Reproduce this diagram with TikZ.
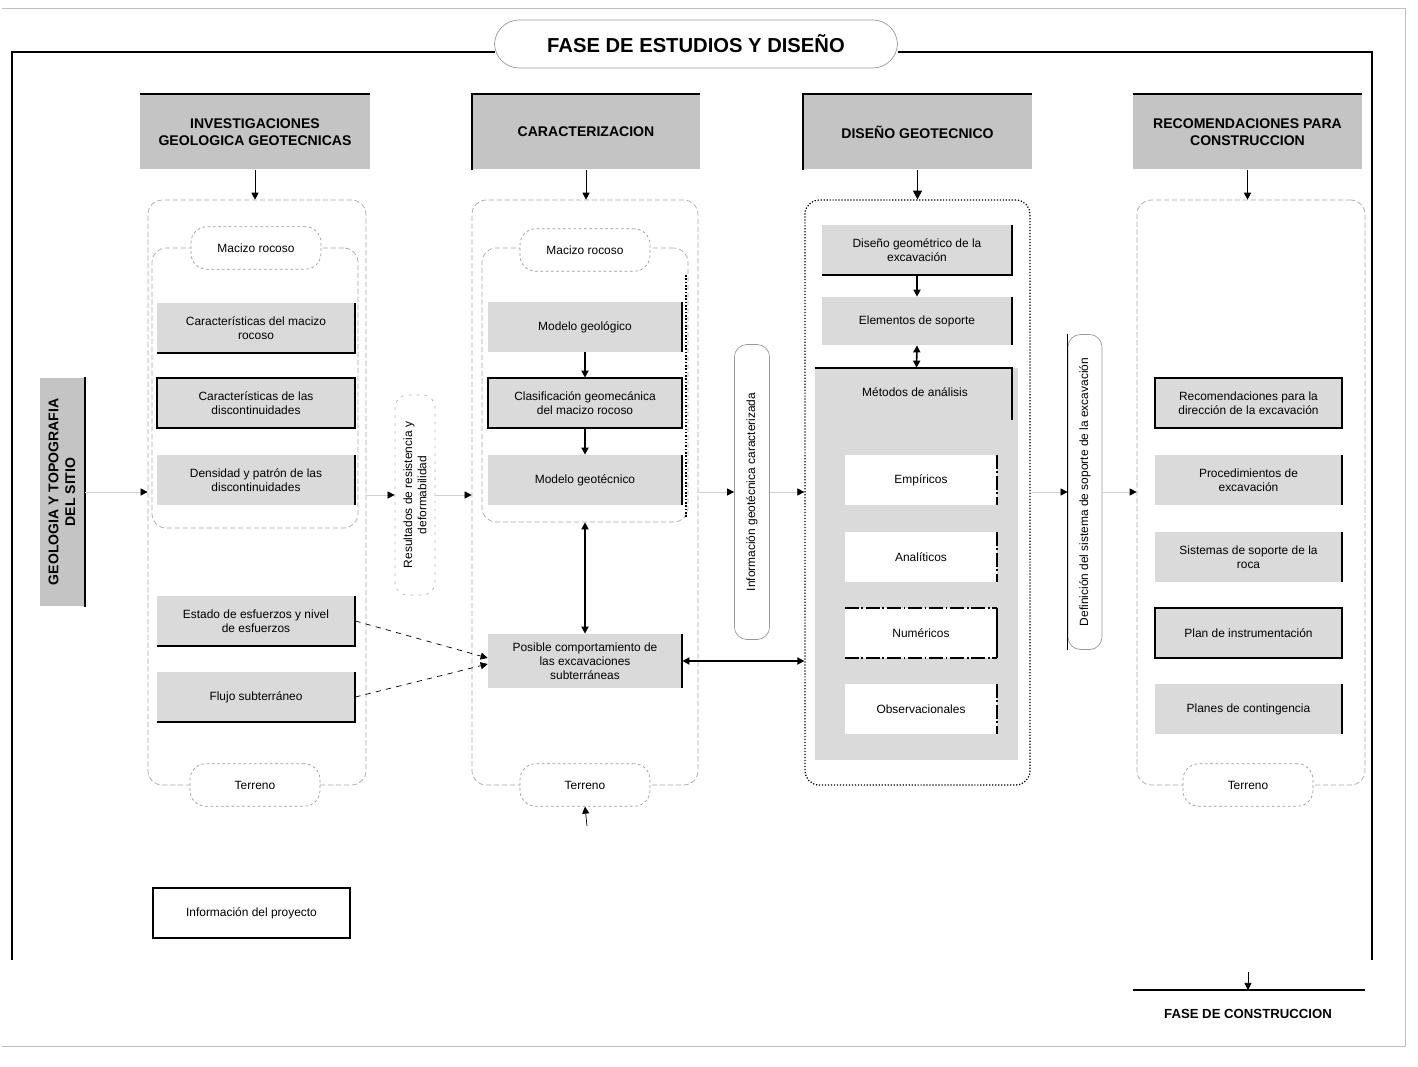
\documentclass[tikz,border=0pt]{standalone}
\usepackage{fontspec}
\setmainfont{Liberation Sans}
\usetikzlibrary{arrows.meta,calc}
\definecolor{hdrgray}{RGB}{196,196,196}
\definecolor{boxgray}{RGB}{218,218,218}
\newcommand\bodyf{\fontsize{6.8}{8}\selectfont}
\newcommand\hdrf{\bfseries\fontsize{8}{9.5}\selectfont}
\newcommand\myrb[1]{\draw[shd] (#1.north east) -- (#1.south east);}
\newcommand\myrbb[1]{\draw[shd] (#1.north east) -- (#1.south east) -- (#1.south west);}
\newcommand\myfb[1]{\draw[shd] (#1.north west) rectangle (#1.south east);}
\begin{document}
\begin{tikzpicture}[x=0.02cm,y=-0.02cm,
 hdr/.style={rectangle, fill=hdrgray, minimum height=1.5cm, font=\hdrf, align=center, inner sep=1pt},
 box/.style={rectangle, fill=boxgray, minimum height=1cm, font=\bodyf, align=center, inner sep=1pt},
 wbox/.style={rectangle, fill=white, minimum width=3.04cm, minimum height=1cm, font=\bodyf, align=center},
 cont/.style={rectangle, rounded corners=8pt, draw=gray!70, dash pattern=on 3pt off 1.5pt, minimum height=11.7cm},
 oval/.style={rectangle, rounded corners=9pt, draw=gray!80, dash pattern=on 1.5pt off 1.5pt, fill=white, minimum width=2.6cm, minimum height=0.85cm, font=\bodyf},
 vlab/.style={rectangle, rounded corners=7pt, draw=gray!80, rotate=90, font=\bodyf, align=center, inner sep=1pt},
 shd/.style={line width=1.1pt},
 arr/.style={-{Triangle[length=4pt,width=4pt]}, thin},
 farr/.style={-{Triangle[length=4pt,width=4pt,color=black]}, thin, draw=gray!35},
 darr/.style={{Triangle[length=4pt,width=4pt]}-{Triangle[length=4pt,width=4pt]}, line width=0.9pt},
 dd/.style={shd, dash pattern=on 8pt off 1.5pt on 1pt off 1.5pt}
]
\useasboundingbox (0,0) rectangle (1418,1067);
% outer border and frame
\draw[gray!50, thin] (2,8) -- (1405,8) -- (1405,1046) -- (2,1046);
\draw[line width=0.9pt] (12,960) -- (12,52) -- (495,52);
\draw[line width=0.9pt] (898,52) -- (1372,52) -- (1372,960);
\node[rectangle, rounded corners=14pt, draw=gray!80, fill=white, minimum width=8.06cm, minimum height=0.96cm, font=\bfseries\fontsize{11.5}{13}\selectfont] (title) at (696,44) {FASE DE ESTUDIOS Y DISEÑO};

% headers
\node[hdr, minimum width=4.6cm] (H1) at (255,132) {INVESTIGACIONES\\GEOLOGICA GEOTECNICAS};
\node[hdr, minimum width=4.56cm] (H2) at (586,132) {CARACTERIZACION};
\node[hdr, minimum width=4.58cm] (H3) at (917.5,132) {DISEÑO GEOTECNICO};
\node[hdr, minimum width=4.58cm] (H4) at (1247.5,132) {RECOMENDACIONES PARA\\CONSTRUCCION};
\draw[shd] (H1.north west) -- (H1.north east);
\draw[shd] (H2.south west) -- (H2.north west) -- (H2.north east);
\draw[shd] (H3.south west) -- (H3.north west) -- (H3.north east);
\draw[shd] (H4.north west) -- (H4.north east);

% containers
\node[cont, minimum width=4.36cm] (C1) at (257,492.5) {};
\node[cont, minimum width=4.52cm] (C2) at (585,492.5) {};
\node[cont, minimum width=4.5cm, draw=black, densely dotted, line width=0.7pt] (C3) at (917.5,492.5) {};
\node[cont, minimum width=4.56cm] (C4) at (1251,492.5) {};
\node[cont, minimum width=4.12cm, minimum height=5.6cm] (G1) at (255,388) {};
\node[cont, minimum width=4.12cm, minimum height=5.48cm] (G2) at (585,385) {};
\draw[black, densely dotted, line width=0.9pt] (686,275) -- (686,518);

% header arrows
\draw[arr] (H1.south) -- (H1.south |- C1.north);
\draw[arr] (H2.south) -- (H2.south |- C2.north);
\draw[-{Triangle[length=5pt,width=5pt]}, line width=1.1pt] (H3.south) -- (H3.south |- C3.north);
\draw[arr] (H4.south) -- (H4.south |- C4.north);

% ovals
\node[oval] (M1) at (256,248) {Macizo rocoso};
\node[oval] (M2) at (585,250) {Macizo rocoso};
\node[oval] (T1) at (255,785) {Terreno};
\node[oval] (T2) at (585,785) {Terreno};
\node[oval] (T4) at (1248,785) {Terreno};

% column 1
\node[box, minimum width=3.96cm] (B1a) at (256,328) {Características del macizo\\rocoso};
\node[box, minimum width=3.96cm] (B1b) at (256,403) {Características de las\\discontinuidades};
\node[box, minimum width=3.96cm] (B1c) at (256,480) {Densidad y patrón de las\\discontinuidades};
\node[box, minimum width=3.96cm] (B1d) at (256,621) {Estado de esfuerzos y nivel\\de esfuerzos};
\node[box, minimum width=3.96cm] (B1e) at (256,697) {Flujo subterráneo};
\myrbb{B1a} \myfb{B1b} \myrb{B1c} \myrbb{B1d} \myrbb{B1e}

% column 2
\node[box, minimum width=3.88cm] (B2a) at (585,327) {Modelo geológico};
\node[box, minimum width=3.88cm] (B2b) at (585,403) {Clasificación geomecánica\\del macizo rocoso};
\node[box, minimum width=3.88cm] (B2c) at (585,480) {Modelo geotécnico};
\node[box, minimum width=3.88cm, minimum height=1.08cm] (B2d) at (585,661) {Posible comportamiento de\\las excavaciones\\subterráneas};
\myrb{B2a} \myfb{B2b} \myrb{B2c} \myrb{B2d}
\draw[arr, line width=0.9pt] (B2a) -- (B2b);
\draw[arr, line width=0.9pt] (B2b) -- (B2c);
\draw[darr] (G2.south) -- (B2d.north);

% column 3
\node[box, minimum width=3.8cm] (B3a) at (917,250) {Diseño geométrico de la\\excavación};
\node[box, minimum width=3.8cm, minimum height=0.96cm] (B3b) at (917,321) {Elementos de soporte};
\myrbb{B3a} \myrb{B3b}
\node[rectangle, fill=boxgray, minimum width=4.06cm, minimum height=7.84cm] (MG) at (916.5,564) {};
\node[font=\bodyf] (M) at (915,392) {Métodos de análisis};
\draw[shd] (MG.north west) -- ++(197,0) -- ++(0,52);
\node[wbox] (E1) at (921,480) {Empíricos};
\node[wbox] (E2) at (921,557) {Analíticos};
\node[wbox] (E3) at (921,633) {Numéricos};
\node[wbox] (E4) at (921,709) {Observacionales};
\draw[dd] (E1.north east) -- (E1.south east);
\draw[dd] (E2.north east) -- (E2.south east);
\draw[dd] (E3.north west) -- (E3.north east);
\draw[dd] (E3.south west) -- (E3.south east);
\draw[shd] (E3.north east) -- (E3.south east);
\draw[dd] (E4.north east) -- (E4.south east);
\draw[arr, line width=0.9pt] (B3a) -- (B3b);
\draw[darr] (B3b.south) -- (MG.north);

% column 4
\node[box, minimum width=3.74cm] (B4a) at (1248.5,403) {Recomendaciones para la\\dirección de la excavación};
\node[box, minimum width=3.74cm] (B4b) at (1248.5,480) {Procedimientos de\\excavación};
\node[box, minimum width=3.74cm] (B4c) at (1248.5,557) {Sistemas de soporte de la\\roca};
\node[box, minimum width=3.74cm] (B4d) at (1248.5,633) {Plan de instrumentación};
\node[box, minimum width=3.74cm] (B4e) at (1248.5,709) {Planes de contingencia};
\myfb{B4a} \myrb{B4b} \myrb{B4c} \myfb{B4d} \myrb{B4e}

% vertical labels
\node[rectangle, fill=hdrgray, rotate=90, minimum width=4.58cm, minimum height=0.9cm, font=\hdrf, align=center, inner sep=1pt] (GEO) at (62,492) {GEOLOGIA Y TOPOGRAFIA\\DEL SITIO};
\draw[shd] (GEO.south west) -- (GEO.south east);
\node[vlab, minimum width=4cm, minimum height=0.8cm, draw=gray!60, dash pattern=on 1.5pt off 3pt] (L12) at (415,495) {Resultados de resistencia y\\deformabilidad};
\node[vlab, minimum width=5.9cm, minimum height=0.7cm] (L23) at (752,492) {Información geotécnica caracterizada};
\node[vlab, minimum width=6.3cm, minimum height=0.68cm] (L34) at (1085,492) {Definición del sistema de soporte de la excavación};
\draw[line width=0.9pt] (L34.north west) -- (L34.north east);

% horizontal flow arrows
\draw[farr] (GEO.south) -- (GEO.south -| C1.west);
\draw[farr] (C1.east |- L12.center) -- (L12.north);
\draw[farr] (L12.south) -- (L12.south -| C2.west);
\draw[farr] (C2.east |- L23.center) -- (L23.north);
\draw[farr] (L23.south) -- (L23.south -| C3.west);
\draw[farr] (C3.east |- L34.center) -- (L34.north);
\draw[farr] (L34.south) -- (L34.south -| C4.west);

% cross connectors
\draw[darr] (B2d.east) -- (C3.west |- B2d.east);
\draw[arr, dashed] (B1d.east) -- ($(B2d.west)+(0,-3)$);
\draw[arr, dashed] (B1e.east) -- ($(B2d.west)+(0,3)$);
\coordinate (T2b) at (587,826);
\draw[arr] (T2b) -- (T2.south);

% bottom
\node[rectangle, draw, line width=1pt, minimum width=3.94cm, minimum height=1cm, font=\bodyf] (INFO) at (251.5,913) {Información del proyecto};
\node[font=\bfseries\fontsize{7.5}{9}\selectfont] (FC) at (1248,1014) {FASE DE CONSTRUCCION};
\draw[line width=0.9pt] (1133,990) -- (1365,990);
\coordinate (FCa) at (1248,972);
\draw[arr] (FCa) -- (1248,990);
\end{tikzpicture}
\end{document}
